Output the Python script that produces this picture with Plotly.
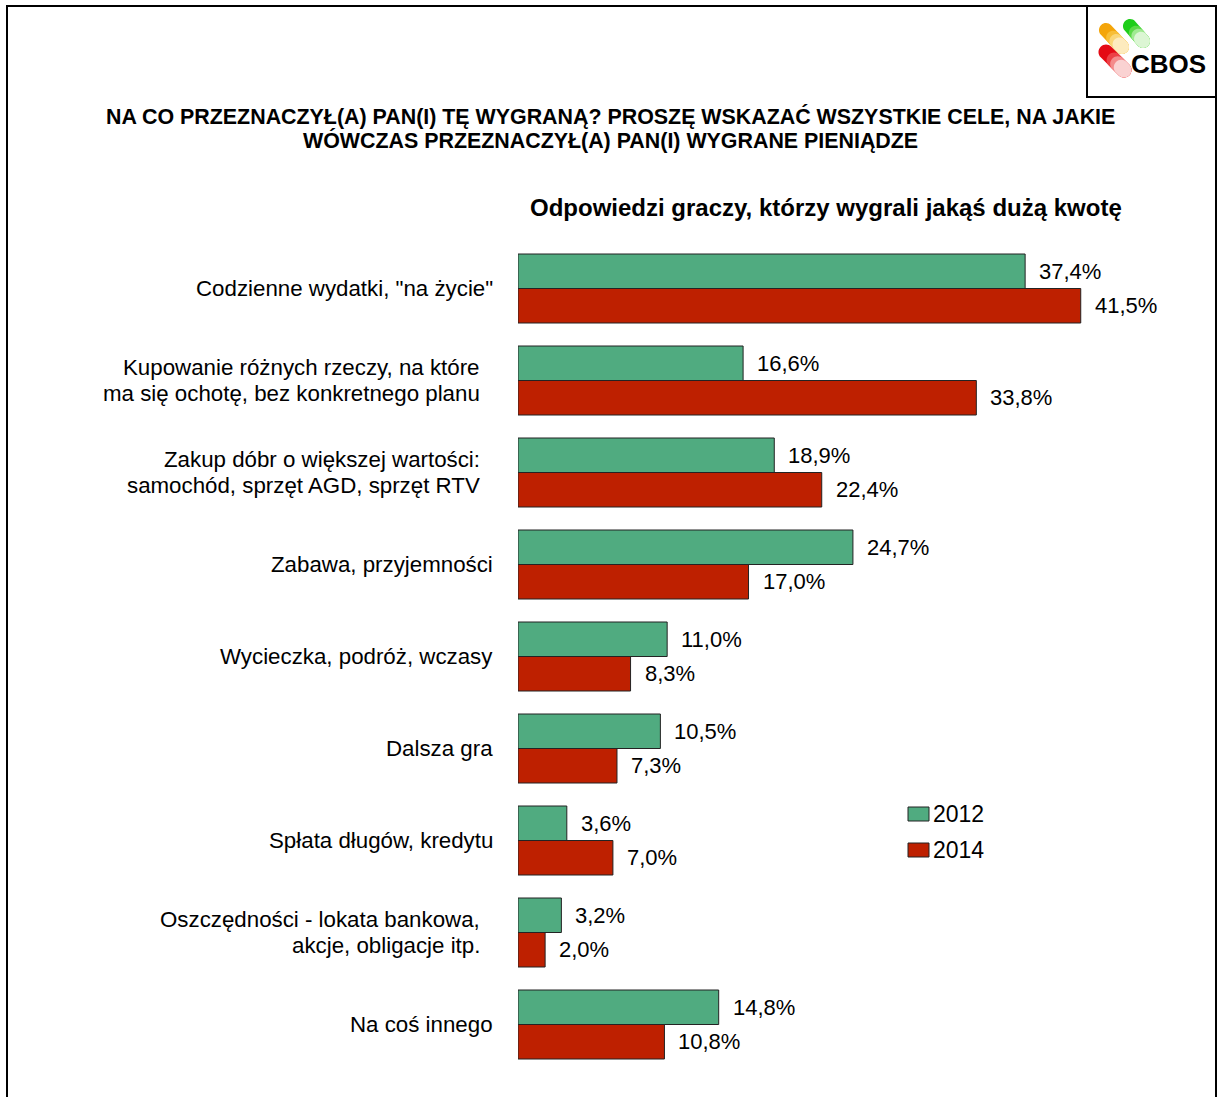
import plotly.graph_objects as go

# ---- data -------------------------------------------------------------
categories = [
    'Codzienne wydatki, "na życie"',
    "Kupowanie różnych rzeczy, na które<br>ma się ochotę, bez konkretnego planu",
    "Zakup dóbr o większej wartości:<br>samochód, sprzęt AGD, sprzęt RTV",
    "Zabawa, przyjemności",
    "Wycieczka, podróż, wczasy",
    "Dalsza gra",
    "Spłata długów, kredytu",
    "Oszczędności - lokata bankowa,<br>akcje, obligacje itp.",
    "Na coś innego",
]
values_2012 = [37.4, 16.6, 18.9, 24.7, 11.0, 10.5, 3.6, 3.2, 14.8]
values_2014 = [41.5, 33.8, 22.4, 17.0, 8.3, 7.3, 7.0, 2.0, 10.8]
series_names = ["2012", "2014"]

title_lines = [
    "NA CO PRZEZNACZYŁ(A) PAN(I) TĘ WYGRANĄ? PROSZĘ WSKAZAĆ WSZYSTKIE CELE, NA JAKIE",
    "WÓWCZAS PRZEZNACZYŁ(A) PAN(I) WYGRANE PIENIĄDZE",
]
subtitle = "Odpowiedzi graczy, którzy wygrali jakąś dużą kwotę"

# ---- style ------------------------------------------------------------
W, H = 1218, 1097
FONT = "Liberation Sans, Arial, sans-serif"
GREEN = "rgb(80,171,128)"
RED = "rgb(190,32,0)"
OUTLINE = "rgb(35,35,35)"
LABEL_SIZE = 22.3


def px(x):
    return x / W


def py(y):
    return 1 - y / H


fig = go.Figure()
positions = list(range(len(categories)))
for name, vals, col in [(series_names[0], values_2012, GREEN),
                        (series_names[1], values_2014, RED)]:
    fig.add_trace(go.Bar(
        x=vals, y=positions, orientation="h", name=name,
        marker=dict(color=col, line=dict(color=OUTLINE, width=1)),
        showlegend=False, hoverinfo="x+name",
    ))

annotations = []
shapes = []

# value labels next to each bar
half = 0.75 / 4  # half of a single bar's thickness in category units
for vals, off in [(values_2012, -half), (values_2014, half)]:
    for i, v in enumerate(vals):
        annotations.append(dict(
            x=v, y=i + off, xref="x", yref="y", xanchor="left", yanchor="middle",
            xshift=12, showarrow=False,
            text=f"{v:.1f}%".replace(".", ","),
            font=dict(family=FONT, size=22, color="black"),
        ))

# category labels (right aligned, multi-line ones slightly further left)
for i, cat in enumerate(categories):
    lines = cat.split("<br>")
    if len(lines) == 1:
        annotations.append(dict(
            x=px(495), y=i, xref="paper", yref="y", xanchor="right",
            yanchor="middle", showarrow=False, text=cat,
            font=dict(family=FONT, size=LABEL_SIZE, color="black"),
        ))
    else:
        for k, line in enumerate(lines):
            annotations.append(dict(
                x=px(482), y=i, xref="paper", yref="y", xanchor="right",
                yanchor="middle", showarrow=False, text=line,
                yshift=13 - 26 * k,
                font=dict(family=FONT, size=LABEL_SIZE, color="black"),
            ))

# title and subtitle
for k, line in enumerate(title_lines):
    annotations.append(dict(
        x=px(610), y=py(117 + 24 * k), xref="paper", yref="paper",
        xanchor="center", yanchor="middle", showarrow=False,
        text=f"<b>{line}</b>", font=dict(family=FONT, size=21.4, color="black"),
    ))
annotations.append(dict(
    x=px(826), y=py(208), xref="paper", yref="paper", xanchor="center",
    yanchor="middle", showarrow=False, text=f"<b>{subtitle}</b>",
    font=dict(family=FONT, size=24, color="black"),
))

# legend drawn as swatches with labels
for k, (name, col) in enumerate([(series_names[0], GREEN), (series_names[1], RED)]):
    yc = 814 + 36 * k
    shapes.append(dict(type="rect", xref="paper", yref="paper",
                       x0=px(908), x1=px(929), y0=py(yc - 7), y1=py(yc + 7),
                       fillcolor=col, line=dict(color=OUTLINE, width=1)))
    annotations.append(dict(
        x=px(931), y=py(yc), xref="paper", yref="paper", xanchor="left",
        yanchor="middle", showarrow=False, text=name,
        font=dict(family=FONT, size=23, color="black"),
    ))

# outer frame and logo box
shapes.append(dict(type="rect", xref="paper", yref="paper",
                   x0=px(7), x1=px(1216), y0=py(6), y1=py(1120),
                   line=dict(color="black", width=2)))
shapes.append(dict(type="rect", xref="paper", yref="paper",
                   x0=px(1087), x1=px(1216), y0=py(6), y1=py(97),
                   line=dict(color="black", width=2)))


def capsule(p1, p2, r):
    """Rounded pill between two pixel points, as an SVG path in paper coords."""
    (x1, y1), (x2, y2) = p1, p2
    L = ((x2 - x1) ** 2 + (y2 - y1) ** 2) ** 0.5
    dx, dy = (x2 - x1) / L, (y2 - y1) / L
    nx, ny = -dy, dx
    k = 0.5523 * r
    A = (x1 + r * nx, y1 + r * ny)
    B = (x2 + r * nx, y2 + r * ny)
    C = (x2 - r * nx, y2 - r * ny)
    D = (x1 - r * nx, y1 - r * ny)
    E = (x2 + r * dx, y2 + r * dy)
    F = (x1 - r * dx, y1 - r * dy)

    def p(pt):
        return f"{px(pt[0]):.5f},{py(pt[1]):.5f}"

    def add(pt, vx, vy, s):
        return (pt[0] + s * vx, pt[1] + s * vy)

    return (
        f"M{p(A)} L{p(B)} "
        f"C{p(add(B, dx, dy, k))} {p(add(E, nx, ny, k))} {p(E)} "
        f"C{p(add(E, nx, ny, -k))} {p(add(C, dx, dy, k))} {p(C)} "
        f"L{p(D)} "
        f"C{p(add(D, dx, dy, -k))} {p(add(F, nx, ny, -k))} {p(F)} "
        f"C{p(add(F, nx, ny, k))} {p(add(A, dx, dy, -k))} {p(A)} Z"
    )


def pill(p1, p2, r, colors, starts):
    # layered capsules fading towards the lower-right end
    for col, t in zip(colors, starts):
        start = (p1[0] + (p2[0] - p1[0]) * t, p1[1] + (p2[1] - p1[1]) * t)
        shapes.append(dict(type="path", xref="paper", yref="paper",
                           path=capsule(start, p2, r), fillcolor=col,
                           line=dict(width=0)))


fade = [0.0, 0.45, 0.65, 0.85]
pill((1106, 30), (1122, 47), 7,
     ["rgb(244,165,10)", "rgb(247,190,55)", "rgb(250,214,120)", "rgb(253,235,190)"], fade)
pill((1130, 26), (1143, 41), 7,
     ["rgb(30,205,25)", "rgb(90,218,70)", "rgb(160,234,145)", "rgb(220,246,212)"], fade)
pill((1106, 52), (1124, 70), 7.5,
     ["rgb(228,10,20)", "rgb(236,65,70)", "rgb(244,140,140)", "rgb(250,210,210)"], fade)
annotations.append(dict(
    x=px(1168), y=py(64), xref="paper", yref="paper", xanchor="center",
    yanchor="middle", showarrow=False, text="<b>CBOS</b>",
    font=dict(family=FONT, size=26, color="black"),
))

fig.update_layout(
    width=W, height=H,
    margin=dict(l=0, r=0, t=0, b=0),
    paper_bgcolor="white", plot_bgcolor="white",
    barmode="group", bargap=0.25, bargroupgap=0,
    showlegend=False,
    xaxis=dict(domain=[px(518), px(1196)], range=[0, 50], visible=False,
               fixedrange=True),
    yaxis=dict(domain=[py(1070.5), py(242.5)], range=[8.5, -0.5],
               visible=False, fixedrange=True),
    annotations=annotations,
    shapes=shapes,
)

fig.write_html("out.html")
